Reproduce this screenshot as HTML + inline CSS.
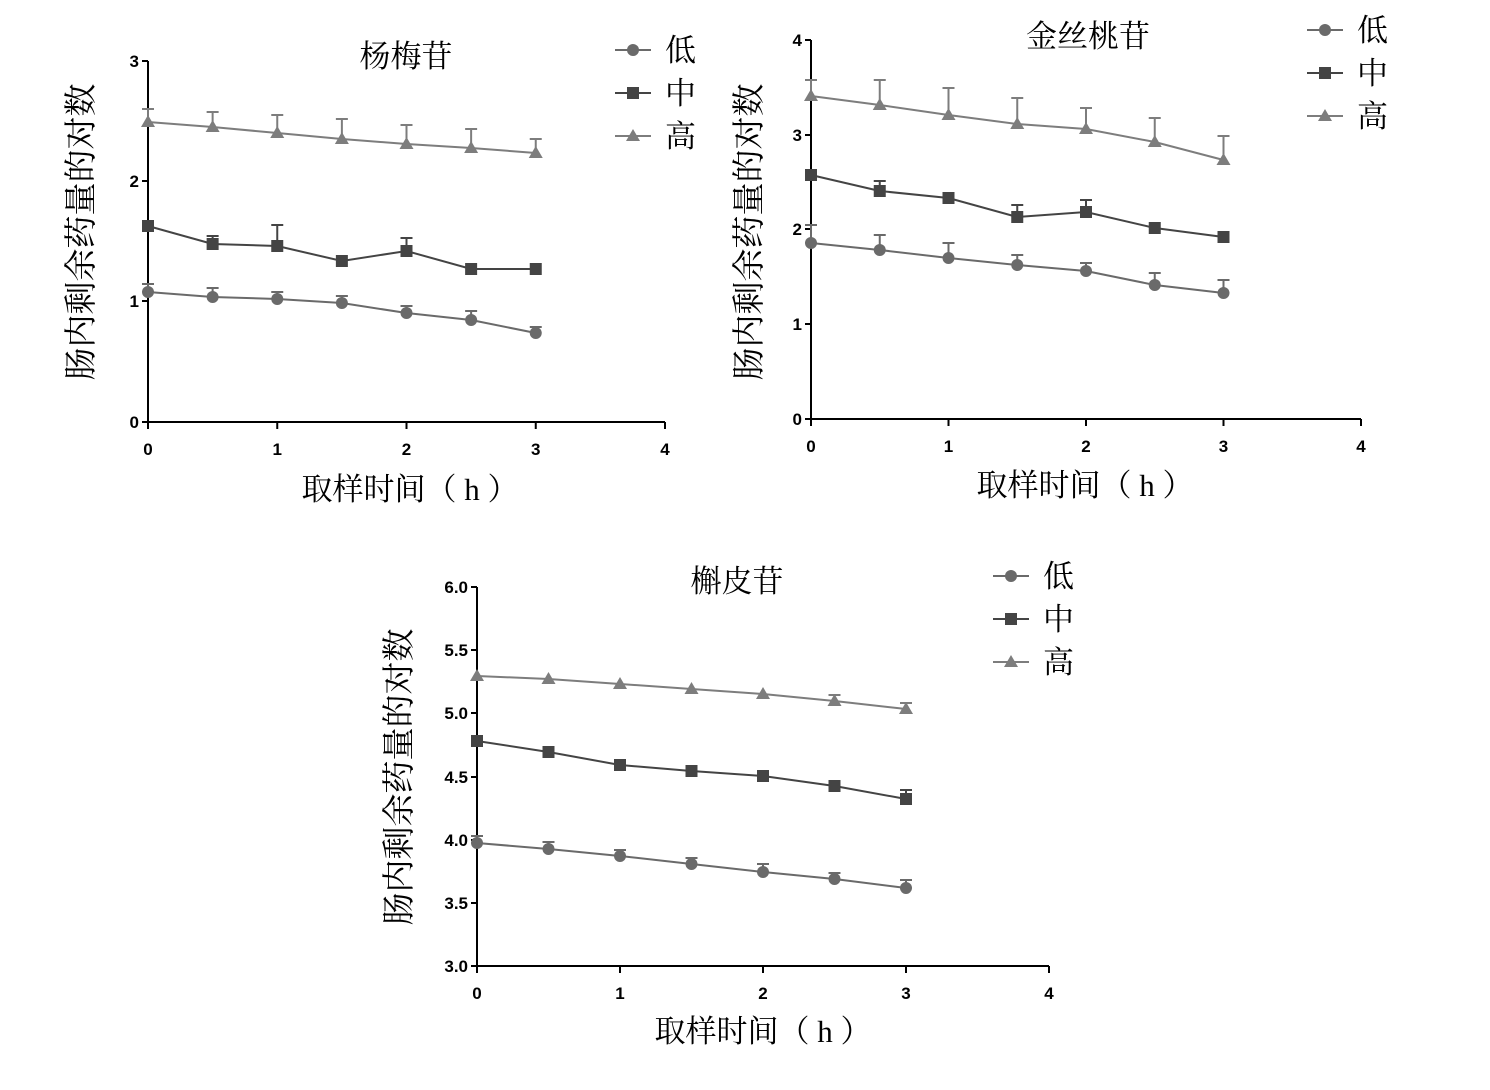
<!DOCTYPE html>
<html><head><meta charset="utf-8"><style>
body{margin:0;background:#fff;width:1490px;height:1085px;overflow:hidden}
svg text{font-family:"Liberation Serif","Noto Serif CJK SC",serif}
.t{font-family:"Liberation Sans",sans-serif;font-weight:bold;font-size:17px}
</style></head><body>
<svg id="s" width="1490" height="1085" xmlns="http://www.w3.org/2000/svg"></svg>
<script>
const s=document.getElementById('s');let h='';
const C={low:'#6a6a6a',mid:'#444',high:'#7d7d7d'};
function mark(t,x,y,c){
 if(t=='low')return `<circle cx="${x}" cy="${y}" r="6" fill="${c}"/>`;
 if(t=='mid')return `<rect x="${x-6}" y="${y-6}" width="12" height="12" fill="${c}"/>`;
 return `<polygon points="${x},${y-7} ${x-7},${y+5} ${x+7},${y+5}" fill="${c}"/>`;}
function chart(o){
 const{ax,x4,y0,ytop,yt,xt,title,tl,yl,xl,leg,data}=o;
 h+=`<line x1="${ax}" y1="${ytop}" x2="${ax}" y2="${y0}" stroke="#000" stroke-width="2"/>`;
 h+=`<line x1="${ax}" y1="${y0}" x2="${x4}" y2="${y0}" stroke="#000" stroke-width="2"/>`;
 yt.forEach(([v,y])=>{h+=`<line x1="${ax-6}" y1="${y}" x2="${ax}" y2="${y}" stroke="#000" stroke-width="2"/><text class="t" x="${ax-9}" y="${y+6}" text-anchor="end">${v}</text>`});
 for(let i=0;i<=4;i++){const x=ax+(x4-ax)*i/4;h+=`<line x1="${x}" y1="${y0}" x2="${x}" y2="${y0+7}" stroke="#000" stroke-width="2"/><text class="t" x="${x}" y="${y0+33}" text-anchor="middle">${i}</text>`}
 h+=`<text x="${tl[0]}" y="${tl[1]}" font-size="31" text-anchor="middle">${title}</text>`;
 h+=`<text transform="translate(${yl[0]},${yl[1]}) rotate(-90)" font-size="33" text-anchor="middle">肠内剩余药量的对数</text>`;
 h+=`<text x="${xl[0]+8}" y="${xl[1]}" font-size="31" text-anchor="middle">取样时间（ h ）</text>`;
 ['low','mid','high'].forEach((k,j)=>{const c=C[k];const[ys,es]=data[k];
  const xs=ys.map((_,i)=>ax+(x4-ax)*i*0.125);
  es.forEach((e,i)=>{if(e!=null)h+=`<line x1="${xs[i]}" y1="${ys[i]}" x2="${xs[i]}" y2="${e}" stroke="${c}" stroke-width="2"/><line x1="${xs[i]-6}" y1="${e}" x2="${xs[i]+6}" y2="${e}" stroke="${c}" stroke-width="2"/>`});
  h+=`<polyline points="${xs.map((x,i)=>x+','+ys[i]).join(' ')}" fill="none" stroke="${c}" stroke-width="2"/>`;
  ys.forEach((y,i)=>h+=mark(k,xs[i],y,c));
  const ly=leg[1]+j*43;
  h+=`<line x1="${leg[0]}" y1="${ly}" x2="${leg[0]+36}" y2="${ly}" stroke="${c}" stroke-width="2"/>`+mark(k,leg[0]+18,ly,c);
  h+=`<text x="${leg[0]+50}" y="${ly+11}" font-size="31">${['低','中','高'][j]}</text>`;
 });}
chart({ax:148,x4:665,y0:422,ytop:61,yt:[[0,422],[1,301],[2,181],[3,61]],title:'杨梅苷',tl:[406,67],yl:[92,232],xl:[402,500],leg:[615,50],
 data:{high:[[122,127,133,139,144,148,153],[109,112,115,119,125,129,139]],
 mid:[[226,244,246,261,251,269,269],[null,236,225,null,238,null,null]],
 low:[[292,297,299,303,313,320,333],[284,288,292,296,306,311,327]]}});
chart({ax:811,x4:1361,y0:419,ytop:40,yt:[[0,419],[1,324],[2,229],[3,135],[4,40]],title:'金丝桃苷',tl:[1088,47],yl:[760,232],xl:[1077,496],leg:[1307,30],
 data:{high:[[96,105,115,124,129,142,160],[80,80,88,98,108,118,136]],
 mid:[[175,191,198,217,212,228,237],[null,181,null,205,200,null,null]],
 low:[[243,250,258,265,271,285,293],[225,235,243,255,263,273,280]]}});
chart({ax:477,x4:1049,y0:966,ytop:587,yt:[['3.0',966],['3.5',903],['4.0',840],['4.5',777],['5.0',713],['5.5',650],['6.0',587]],title:'槲皮苷',tl:[737,592],yl:[410,777],xl:[755,1042],leg:[993,576],
 data:{high:[[676,679,684,689,694,701,709],[null,null,null,null,null,695,703]],
 mid:[[741,752,765,771,776,786,799],[null,null,null,null,null,null,790]],
 low:[[843,849,856,864,872,879,888],[836,842,850,858,864,873,880]]}});
s.innerHTML=h;
</script>
</body></html>
